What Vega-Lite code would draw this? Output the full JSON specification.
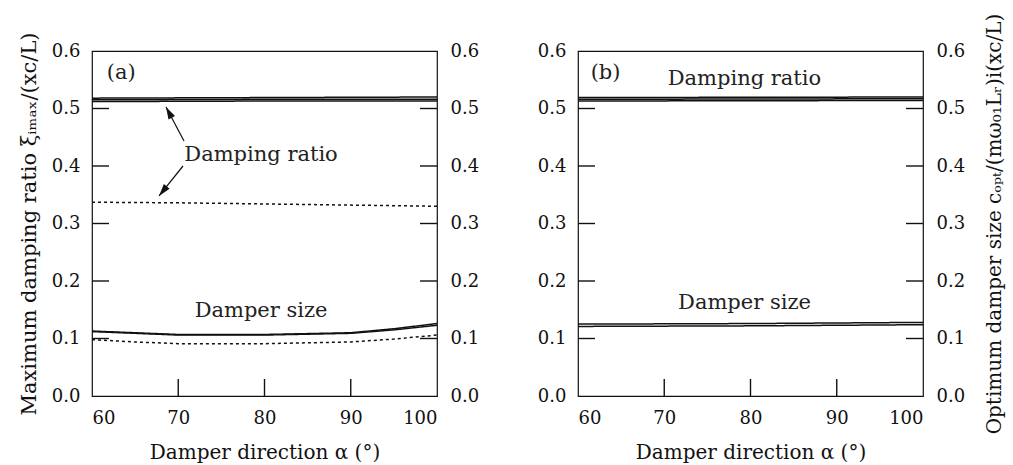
{
  "$schema": "https://vega.github.io/schema/vega-lite/v6.json",
  "background": "white",
  "padding": {"left": 17, "top": 12, "right": 5, "bottom": 0},
  "spacing": 56,
  "config": {
    "view": {"stroke": "#111", "strokeWidth": 1.2},
    "font": "DejaVu Serif",
    "axis": {
      "domain": false, "grid": false, "ticks": false,
      "labelFont": "DejaVu Serif", "labelFontSize": 18, "labelColor": "#111",
      "titleFont": "DejaVu Serif", "titleFontSize": 20, "titleFontWeight": "normal", "titleColor": "#111"
    }
  },
  "datasets": {
    "linesA": [
      {"s": "dr1", "st": "solid", "x": 60, "y": 0.518}, {"s": "dr1", "st": "solid", "x": 80, "y": 0.519}, {"s": "dr1", "st": "solid", "x": 100, "y": 0.520},
      {"s": "dr2", "st": "solid", "x": 60, "y": 0.515}, {"s": "dr2", "st": "solid", "x": 80, "y": 0.516}, {"s": "dr2", "st": "solid", "x": 100, "y": 0.516},
      {"s": "dr3", "st": "solid", "x": 60, "y": 0.512}, {"s": "dr3", "st": "solid", "x": 80, "y": 0.513}, {"s": "dr3", "st": "solid", "x": 100, "y": 0.513},
      {"s": "dr4", "st": "dotted", "x": 60, "y": 0.337}, {"s": "dr4", "st": "dotted", "x": 70, "y": 0.336}, {"s": "dr4", "st": "dotted", "x": 80, "y": 0.334}, {"s": "dr4", "st": "dotted", "x": 90, "y": 0.332}, {"s": "dr4", "st": "dotted", "x": 100, "y": 0.330},
      {"s": "ds1", "st": "solid", "x": 60, "y": 0.113}, {"s": "ds1", "st": "solid", "x": 65, "y": 0.110}, {"s": "ds1", "st": "solid", "x": 70, "y": 0.107}, {"s": "ds1", "st": "solid", "x": 80, "y": 0.107}, {"s": "ds1", "st": "solid", "x": 90, "y": 0.110}, {"s": "ds1", "st": "solid", "x": 95, "y": 0.117}, {"s": "ds1", "st": "solid", "x": 100, "y": 0.126},
      {"s": "ds2", "st": "solid", "x": 60, "y": 0.112}, {"s": "ds2", "st": "solid", "x": 65, "y": 0.109}, {"s": "ds2", "st": "solid", "x": 70, "y": 0.106}, {"s": "ds2", "st": "solid", "x": 80, "y": 0.106}, {"s": "ds2", "st": "solid", "x": 90, "y": 0.109}, {"s": "ds2", "st": "solid", "x": 95, "y": 0.115}, {"s": "ds2", "st": "solid", "x": 100, "y": 0.123},
      {"s": "ds3", "st": "dotted", "x": 60, "y": 0.098}, {"s": "ds3", "st": "dotted", "x": 65, "y": 0.094}, {"s": "ds3", "st": "dotted", "x": 70, "y": 0.091}, {"s": "ds3", "st": "dotted", "x": 80, "y": 0.091}, {"s": "ds3", "st": "dotted", "x": 90, "y": 0.094}, {"s": "ds3", "st": "dotted", "x": 95, "y": 0.099}, {"s": "ds3", "st": "dotted", "x": 100, "y": 0.106}
    ],
    "linesB": [
      {"s": "dr1", "st": "solid", "x": 60, "y": 0.519}, {"s": "dr1", "st": "solid", "x": 100, "y": 0.520},
      {"s": "dr2", "st": "solid", "x": 60, "y": 0.516}, {"s": "dr2", "st": "solid", "x": 100, "y": 0.517},
      {"s": "dr3", "st": "solid", "x": 60, "y": 0.513}, {"s": "dr3", "st": "solid", "x": 100, "y": 0.514},
      {"s": "ds1", "st": "solid", "x": 60, "y": 0.125}, {"s": "ds1", "st": "solid", "x": 80, "y": 0.126}, {"s": "ds1", "st": "solid", "x": 100, "y": 0.128},
      {"s": "ds2", "st": "solid", "x": 60, "y": 0.121}, {"s": "ds2", "st": "solid", "x": 80, "y": 0.122}, {"s": "ds2", "st": "solid", "x": 100, "y": 0.124}
    ],
    "textA": [
      {"x": 63.4, "y": 0.562, "t": "(a)"},
      {"x": 79.6, "y": 0.419, "t": "Damping ratio"},
      {"x": 79.6, "y": 0.148, "t": "Damper size"}
    ],
    "textB": [
      {"x": 63.2, "y": 0.562, "t": "(b)"},
      {"x": 79.3, "y": 0.551, "t": "Damping ratio"},
      {"x": 79.3, "y": 0.162, "t": "Damper size"}
    ],
    "arrowsA": [
      {"a": 1, "x": 70.67, "y": 0.4435, "x2": 68.58, "y2": 0.5026},
      {"a": 2, "x": 70.55, "y": 0.400, "x2": 67.77, "y2": 0.348}
    ],
    "yticks": [{"v": 0.1}, {"v": 0.2}, {"v": 0.3}, {"v": 0.4}, {"v": 0.5}],
    "xticks": [{"v": 70}, {"v": 80}, {"v": 90}]
  },
  "hconcat": [
    {
      "width": 345, "height": 345,
      "resolve": {"axis": {"y": "independent"}},
      "layer": [
        {
          "data": {"name": "linesA"},
          "mark": {"type": "line", "color": "#111", "strokeWidth": 1.5},
          "encoding": {
            "x": {"field": "x", "type": "quantitative", "scale": {"domain": [60, 100], "nice": false}, "axis": {"values": [60, 70, 80, 90, 100], "title": "Damper direction α (°)", "labelPadding": 13, "titlePadding": 15}},
            "y": {"field": "y", "type": "quantitative", "scale": {"domain": [0, 0.6], "nice": false}, "axis": {"orient": "left", "values": [0, 0.1, 0.2, 0.3, 0.4, 0.5, 0.6], "format": ".1f", "title": "Maximum damping ratio ξᵢₘₐₓ/(xc/L)", "titleFontSize": 21, "labelPadding": 12, "titlePadding": 12}},
            "detail": {"field": "s"},
            "strokeDash": {"field": "st", "type": "nominal", "scale": {"domain": ["solid", "dotted"], "range": [[1, 0], [3, 3]]}, "legend": null}
          }
        },
        {
          "data": {"name": "textA"},
          "mark": {"type": "text", "fontSize": 21, "color": "#222", "font": "DejaVu Serif"},
          "encoding": {
            "x": {"field": "x", "type": "quantitative", "scale": {"domain": [60, 100], "nice": false}, "axis": {"values": [60, 70, 80, 90, 100], "title": "Damper direction α (°)", "labelPadding": 13, "titlePadding": 15}},
            "y": {"field": "y", "type": "quantitative", "scale": {"domain": [0, 0.6], "nice": false}, "axis": {"orient": "right", "values": [0, 0.1, 0.2, 0.3, 0.4, 0.5, 0.6], "format": ".1f", "title": null, "labelPadding": 13}},
            "text": {"field": "t"}
          }
        },
        {
          "data": {"name": "arrowsA"},
          "mark": {"type": "rule", "color": "#111", "strokeWidth": 1.2},
          "encoding": {
            "x": {"field": "x", "type": "quantitative"},
            "y": {"field": "y", "type": "quantitative", "axis": null},
            "x2": {"field": "x2"},
            "y2": {"field": "y2"}
          }
        },
        {
          "data": {"name": "arrowsA"},
          "transform": [{"filter": "datum.a == 1"}],
          "mark": {"type": "point", "shape": "M0,0L0.6,2L-0.6,2Z", "size": 150, "filled": true, "color": "#111", "opacity": 1, "angle": 332},
          "encoding": {
            "x": {"field": "x2", "type": "quantitative"},
            "y": {"field": "y2", "type": "quantitative", "axis": null}
          }
        },
        {
          "data": {"name": "arrowsA"},
          "transform": [{"filter": "datum.a == 2"}],
          "mark": {"type": "point", "shape": "M0,0L0.6,2L-0.6,2Z", "size": 150, "filled": true, "color": "#111", "opacity": 1, "angle": 219},
          "encoding": {
            "x": {"field": "x2", "type": "quantitative"},
            "y": {"field": "y2", "type": "quantitative", "axis": null}
          }
        },
        {
          "data": {"name": "yticks"},
          "mark": {"type": "rule", "color": "#111", "strokeWidth": 1.4},
          "encoding": {
            "x": {"datum": 60, "type": "quantitative"},
            "x2": {"datum": 61.97},
            "y": {"field": "v", "type": "quantitative", "axis": null}
          }
        },
        {
          "data": {"name": "yticks"},
          "mark": {"type": "rule", "color": "#111", "strokeWidth": 1.4},
          "encoding": {
            "x": {"datum": 98.03, "type": "quantitative"},
            "x2": {"datum": 100},
            "y": {"field": "v", "type": "quantitative", "axis": null}
          }
        },
        {
          "data": {"name": "xticks"},
          "mark": {"type": "rule", "color": "#111", "strokeWidth": 1.4},
          "encoding": {
            "x": {"field": "v", "type": "quantitative"},
            "y": {"datum": 0, "type": "quantitative", "axis": null},
            "y2": {"datum": 0.0296}
          }
        }
      ]
    },
    {
      "width": 345, "height": 345,
      "resolve": {"axis": {"y": "independent"}},
      "layer": [
        {
          "data": {"name": "linesB"},
          "mark": {"type": "line", "color": "#111", "strokeWidth": 1.5},
          "encoding": {
            "x": {"field": "x", "type": "quantitative", "scale": {"domain": [60, 100], "nice": false}, "axis": {"values": [60, 70, 80, 90, 100], "title": "Damper direction α (°)", "labelPadding": 13, "titlePadding": 15}},
            "y": {"field": "y", "type": "quantitative", "scale": {"domain": [0, 0.6], "nice": false}, "axis": {"orient": "left", "values": [0, 0.1, 0.2, 0.3, 0.4, 0.5, 0.6], "format": ".1f", "title": null, "labelPadding": 12}},
            "detail": {"field": "s"},
            "strokeDash": {"field": "st", "type": "nominal", "scale": {"domain": ["solid", "dotted"], "range": [[1, 0], [3, 3]]}, "legend": null}
          }
        },
        {
          "data": {"name": "textB"},
          "mark": {"type": "text", "fontSize": 21, "color": "#222", "font": "DejaVu Serif"},
          "encoding": {
            "x": {"field": "x", "type": "quantitative", "scale": {"domain": [60, 100], "nice": false}, "axis": {"values": [60, 70, 80, 90, 100], "title": "Damper direction α (°)", "labelPadding": 13, "titlePadding": 15}},
            "y": {"field": "y", "type": "quantitative", "scale": {"domain": [0, 0.6], "nice": false}, "axis": {"orient": "right", "values": [0, 0.1, 0.2, 0.3, 0.4, 0.5, 0.6], "format": ".1f", "title": "Optimum damper size cₒₚₜ/(mω₀₁Lᵣ)i(xc/L)", "titleAngle": 270, "titleBaseline": "top", "labelPadding": 13, "titlePadding": 20}},
            "text": {"field": "t"}
          }
        },
        {
          "data": {"name": "yticks"},
          "mark": {"type": "rule", "color": "#111", "strokeWidth": 1.4},
          "encoding": {
            "x": {"datum": 60, "type": "quantitative"},
            "x2": {"datum": 61.97},
            "y": {"field": "v", "type": "quantitative", "axis": null}
          }
        },
        {
          "data": {"name": "yticks"},
          "mark": {"type": "rule", "color": "#111", "strokeWidth": 1.4},
          "encoding": {
            "x": {"datum": 98.03, "type": "quantitative"},
            "x2": {"datum": 100},
            "y": {"field": "v", "type": "quantitative", "axis": null}
          }
        },
        {
          "data": {"name": "xticks"},
          "mark": {"type": "rule", "color": "#111", "strokeWidth": 1.4},
          "encoding": {
            "x": {"field": "v", "type": "quantitative"},
            "y": {"datum": 0, "type": "quantitative", "axis": null},
            "y2": {"datum": 0.0296}
          }
        }
      ]
    }
  ]
}
